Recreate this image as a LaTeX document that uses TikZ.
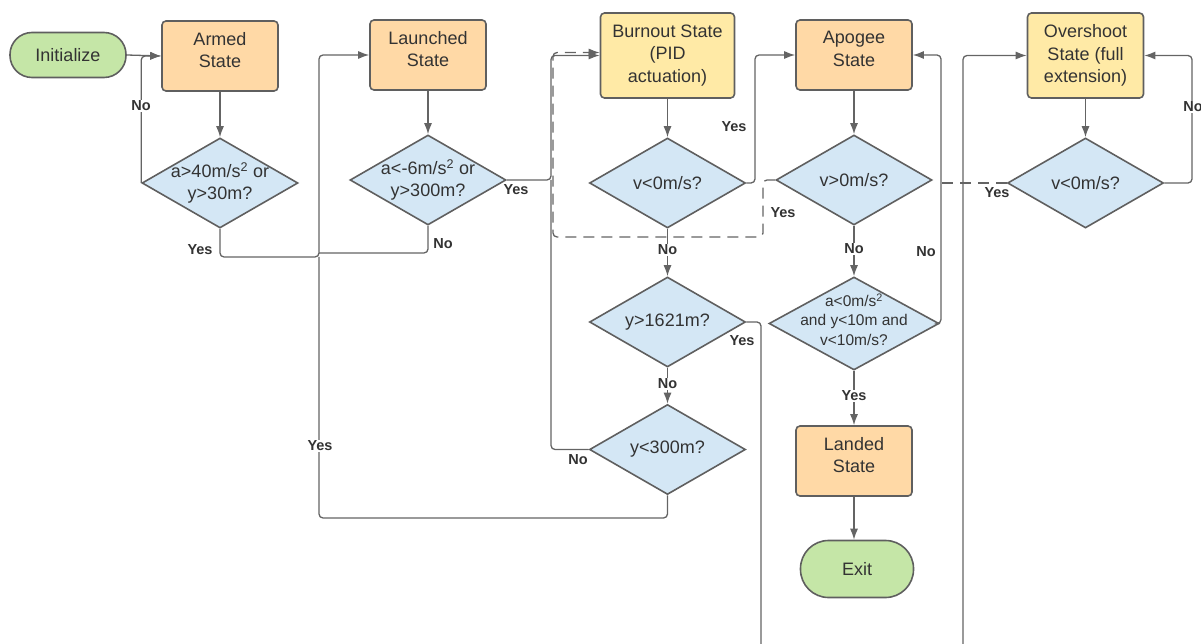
\documentclass[tikz,border=0pt]{standalone}
\usepackage{fontspec}
\setmainfont{Liberation Sans}
\usepackage{tikz}
\usetikzlibrary{shapes.geometric}
\usetikzlibrary{arrows.meta}
\definecolor{edge}{RGB}{95,95,95}
\definecolor{wire}{RGB}{100,100,100}
\definecolor{ink}{RGB}{51,51,51}
\definecolor{orng}{RGB}{255,217,166}
\definecolor{ylw}{RGB}{255,234,166}
\definecolor{blu}{RGB}{212,231,245}
\definecolor{grn}{RGB}{197,230,167}

\begin{document}
\begin{tikzpicture}
    [
    x=1pt,y=-1pt,
    >={Latex[length=11pt,width=8pt]},
    state/.style={rectangle,rounded corners=4pt,draw=edge,line width=1.6pt,fill=orng,text=ink,align=center,
      minimum width=116pt,minimum height=70pt,inner sep=2pt,text depth=12pt,font=\fontsize{18}{22.5}\selectfont},
    pidstate/.style={state,fill=ylw,minimum height=85pt,text depth=4pt},
    terminal/.style={rectangle,rounded corners=22pt,draw=edge,line width=1.6pt,fill=grn,text=ink,
      minimum width=116pt,minimum height=45pt,font=\fontsize{18}{22}\selectfont},
    decision/.style={diamond,draw=edge,line width=1.6pt,fill=blu,minimum width=156pt,minimum height=90pt,inner sep=0pt},
    cond/.style={text=ink,align=center,font=\fontsize{18}{22}\selectfont},
    flow/.style={draw=wire,line width=1.3pt,rounded corners=4pt},
    back/.style={flow,dash pattern=on 11pt off 7pt},
    lbl/.style={fill=white,text=ink,inner sep=1pt,font=\bfseries\fontsize{14.5}{16}\selectfont},
    ]
    \useasboundingbox (0,0) rectangle (1201,644);

    \node (init) at (68,55) [terminal] {Initialize};
    \node (armed) at (220,56) [state] {Armed\\State};
    \node (launched) at (428,55) [state] {Launched\\State};
    \node (burnout) at (667.5,55.5) [pidstate,minimum width=134pt] {Burnout State\\(PID\\actuation)};
    \node (apogee) at (854,55) [state] {Apogee\\State};
    \node (overshoot) at (1085.5,55.5) [pidstate] {Overshoot\\State (full\\extension)};
    \node (landed) at (854,461) [state] {Landed\\State};
    \node (exit) at (857,569) [terminal,minimum width=113pt,minimum height=57pt,rounded corners=28pt] {Exit};

    \node (d1) at (220,183) [decision,label={[cond]center:{a>40m/s\textsuperscript{2} or\\y>30m?}}] {};
    \node (d2) at (428,180) [decision,label={[cond]center:{a<-6m/s\textsuperscript{2} or\\y>300m?}}] {};
    \node (d3) at (667.5,183) [decision,label={[cond]center:{v<0m/s?}}] {};
    \node (d4) at (854,180) [decision,label={[cond]center:{v>0m/s?}}] {};
    \node (d5) at (1085.5,183) [decision,label={[cond]center:{v<0m/s?}}] {};
    \node (d6) at (667.5,322) [decision,label={[cond]center:{y>1621m?}}] {};
    \node (d7) at (667.5,449.5) [decision,label={[cond]center:{y<300m?}}] {};
    \node (d8) at (854,323.5) [decision,minimum width=170pt,minimum height=93pt,
      label={[cond,yshift=4pt,font=\fontsize{15.5}{19.5}\selectfont]center:{a<0m/s\textsuperscript{2}\\and y<10m and\\v<10m/s?}}] {};

    \coordinate (off1) at (761,650);
    \coordinate (off2) at (963,650);

    % main line
    \draw [flow,->] (init.east) -- (armed.west);
    \draw [flow,->] (armed.south) -- (d1.north);
    \draw [flow,->] (launched.south) -- (d2.north);
    \draw [flow,->] (burnout.south) -- (d3.north);
    \draw [flow,->] (d3.south) -- (d6.north);
    \draw [flow,->] (d6.south) -- (d7.north);
    \draw [flow,->] (apogee.south) -- (d4.north);
    \draw [flow,->] (d4.south) -- (d8.north);
    \draw [flow,->] (d8.south) -- (landed.north);
    \draw [flow,->] (landed.south) -- (landed.south |- exit.north);
    \draw [flow,->] (overshoot.south) -- (d5.north);

    % loops and jumps
    \draw [flow,->] (d1.west) |- (armed.west);
    \draw [flow,->] (d1.south) |- (319,257) |- (launched.west);
    \draw [flow] (d2.south) |- (319,253);
    \draw [flow] (d7.south) |- (319,518) -- (319,257);
    \draw [flow,->] (d2.east) -- (551,180) |- (burnout.west);
    \draw [flow] (d7.west) -| (551,180);
    \draw [flow,->] (d3.east) -- (755,183) |- (apogee.west);
    \draw [back,->] (d4.west) -- (763,180) |- (553,237) |- ([yshift=3pt]burnout.west);
    \draw [flow] (d6.east) -| (off1);
    \draw [flow,->] (off2) |- (overshoot.west);
    \draw [flow,->] (d8.east) -| (941,55) -- (apogee.east);
    \draw [back] (d5.west) -- (941,183);
    \draw [flow,->] (d5.east) -- (1192,183) |- (overshoot.east);

    \node (no1) at (141,106) [lbl] {No};
    \node (yes1) at (200,250) [lbl] {Yes};
    \node (no2) at (443,244) [lbl] {No};
    \node (yes2) at (516,190) [lbl] {Yes};
    \node (yes3) at (734,127) [lbl] {Yes};
    \node (yes4) at (783,213) [lbl] {Yes};
    \node (no3) at (667.5,250) [lbl] {No};
    \node (no4) at (854,249) [lbl] {No};
    \node (no5) at (926,252) [lbl] {No};
    \node (yes5) at (997,193) [lbl] {Yes};
    \node (no6) at (1193,107) [lbl] {No};
    \node (yes6) at (742,341) [lbl] {Yes};
    \node (no7) at (667.5,384) [lbl] {No};
    \node (no8) at (578,460) [lbl] {No};
    \node (yes7) at (854,396) [lbl] {Yes};
    \node (yes8) at (320,446) [lbl] {Yes};
\end{tikzpicture}
\end{document}
